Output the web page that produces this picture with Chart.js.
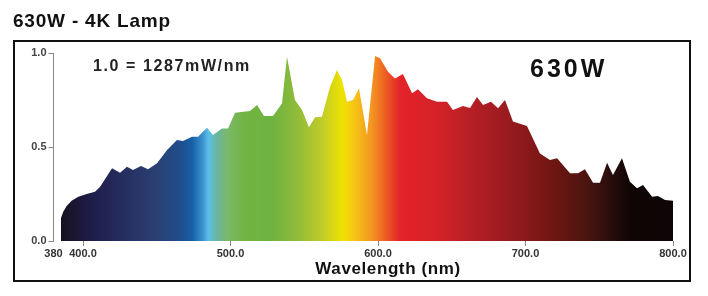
<!DOCTYPE html>
<html>
<head>
<meta charset="utf-8">
<title>630W - 4K Lamp</title>
<script src="https://cdn.jsdelivr.net/npm/chart.js@4/dist/chart.umd.min.js"></script>
<style>
  html, body { margin: 0; padding: 0; background: #fff; }
  canvas { display: block; }
</style>
</head>
<body>
<canvas id="spectrum" width="708" height="296"></canvas>
<script>
// wavelength (nm) and relative intensity (1.0 = 1287 mW/nm)
const wavelengths = [
  385, 386.6, 388.9, 392.3, 396.8, 402.5, 408.1, 411.5, 419.7, 425.1,
  429.8, 433.9, 439.3, 444.1, 450.2, 457, 463.7, 467.8, 473.9, 478,
  484.1, 488.1, 494.2, 498.3, 503.1, 513.2, 518, 522.7, 528.8, 534.9,
  538.3, 543.7, 548.5, 553.2, 557.3, 562, 567.5, 572.2, 575.6, 579,
  583.1, 587.1, 592.5, 598, 601.4, 606.8, 611.5, 616.9, 623.1, 627.1,
  633.2, 640, 646.8, 650.8, 657.6, 662.4, 667.1, 671.2, 676.6, 681.4,
  686.1, 691.5, 701, 709.8, 716.6, 721.4, 730.2, 735.6, 740.3, 745.8,
  750.5, 755.3, 759.3, 765.4, 770.8, 775.6, 779.7, 785.8, 789.8, 794.6,
  800
];
const intensity = [
  0.121, 0.156, 0.186, 0.214, 0.236, 0.25, 0.262, 0.287, 0.387, 0.363,
  0.395, 0.378, 0.399, 0.381, 0.413, 0.484, 0.537, 0.532, 0.555, 0.555,
  0.603, 0.564, 0.599, 0.599, 0.682, 0.691, 0.723, 0.665, 0.665, 0.732,
  0.98, 0.75, 0.697, 0.605, 0.658, 0.661, 0.821, 0.91, 0.856, 0.741,
  0.75, 0.812, 0.564, 0.984, 0.972, 0.9, 0.865, 0.888, 0.786, 0.807,
  0.759, 0.741, 0.741, 0.697, 0.718, 0.707, 0.766, 0.723, 0.741, 0.706,
  0.75, 0.635, 0.612, 0.466, 0.431, 0.44, 0.36, 0.36, 0.381, 0.31,
  0.31, 0.416, 0.351, 0.44, 0.315, 0.28, 0.298, 0.236, 0.239, 0.218,
  0.214
];
const xTicks = [380, 400, 500, 600, 700, 800];
const yTicks = [0, 0.5, 1.0];

// colour of the fill along the wavelength axis
const gradNm = [385, 403, 426, 449, 467, 474, 481, 485, 491, 498, 508, 528, 544, 562, 576, 584, 596, 603, 615, 640, 662, 696, 719, 742, 757, 771, 800];
const gradColors = [
  "#15121f", "#1e1a45", "#252d5e", "#2a3f72", "#1f4f8f", "#1561a8", "#3b8fcc", "#5bbfe8",
  "#6ab5a0", "#7ab86a", "#72b446", "#6db33f", "#8dbb3a", "#bfcc2a", "#f0e200", "#f6c515",
  "#f39422", "#ee6b22", "#e42329", "#d42228", "#b81f26", "#8f1a1c", "#6f1612", "#4a150f",
  "#2a0e0c", "#100505", "#0d0606"
];

function spectrumFill(ctx) {
  const chart = ctx.chart;
  const area = chart.chartArea;
  if (!area) return null;
  const x = chart.scales.x;
  const x0 = x.getPixelForValue(380);
  const x1 = x.getPixelForValue(800);
  const g = chart.ctx.createLinearGradient(x0, 0, x1, 0);
  gradNm.forEach((nm, i) => {
    g.addColorStop((nm - 380) / 420, gradColors[i]);
  });
  return g;
}

const labelsPlugin = {
  id: "labels",
  afterDraw(chart) {
    const c = chart.ctx;
    c.save();
    // outer frame
    c.strokeStyle = "#111";
    c.lineWidth = 2;
    c.strokeRect(14, 41, 676, 240);

    c.fillStyle = "#111";
    c.textBaseline = "alphabetic";
    c.textAlign = "left";

    c.font = "bold 19px 'Liberation Sans', Arial, sans-serif";
    c.letterSpacing = "0.8px";
    c.fillText("630W - 4K Lamp", 13, 27);

    c.fillStyle = "#222";
    c.font = "bold 16px 'Liberation Sans', Arial, sans-serif";
    c.letterSpacing = "1.6px";
    c.fillText("1.0 = 1287mW/nm", 93, 71);

    c.fillStyle = "#111";
    c.font = "bold 25px 'Liberation Sans', Arial, sans-serif";
    c.letterSpacing = "3px";
    c.fillText("630W", 530, 77);

    c.font = "bold 17px 'Liberation Sans', Arial, sans-serif";
    c.letterSpacing = "0.6px";
    c.textAlign = "center";
    c.fillText("Wavelength (nm)", 388, 274);
    c.restore();
  }
};

const points = wavelengths.map((nm, i) => ({ x: nm, y: intensity[i] }));

new Chart(document.getElementById("spectrum"), {
  type: "line",
  data: {
    datasets: [{
      data: points,
      fill: "origin",
      backgroundColor: spectrumFill,
      borderWidth: 0,
      pointRadius: 0,
      tension: 0
    }]
  },
  options: {
    responsive: false,
    animation: false,
    layout: { padding: { top: 53, right: 35, bottom: 0, left: 0 } },
    plugins: {
      legend: { display: false },
      tooltip: { enabled: false },
      title: { display: false }
    },
    scales: {
      x: {
        type: "linear",
        min: 380,
        max: 800,
        afterBuildTicks: scale => {
          scale.ticks = xTicks.map(v => ({ value: v }));
        },
        afterFit: scale => { scale.height = 55; },
        border: { display: false },
        grid: {
          drawOnChartArea: false,
          drawTicks: true,
          tickLength: 5,
          color: ctx => ctx.index === 0 ? "rgba(0,0,0,0)" : "#888"
        },
        ticks: {
          autoSkip: false,
          maxRotation: 0,
          padding: 1,
          color: "#333",
          font: { family: "'Liberation Sans', Arial, sans-serif", size: 11, weight: "bold" },
          callback: v => v === 380 ? "380" : v.toFixed(1)
        }
      },
      y: {
        min: 0,
        max: 1,
        afterBuildTicks: scale => {
          scale.ticks = yTicks.map(v => ({ value: v }));
        },
        afterFit: scale => { scale.width = 53.5; },
        border: { display: true, color: "#888" },
        grid: {
          drawOnChartArea: false,
          drawTicks: true,
          tickLength: 5,
          color: "#888"
        },
        ticks: {
          padding: 2,
          color: "#444",
          font: { family: "'Liberation Sans', Arial, sans-serif", size: 11, weight: "bold" },
          callback: v => v.toFixed(1)
        }
      }
    }
  },
  plugins: [labelsPlugin]
});
</script>
</body>
</html>
